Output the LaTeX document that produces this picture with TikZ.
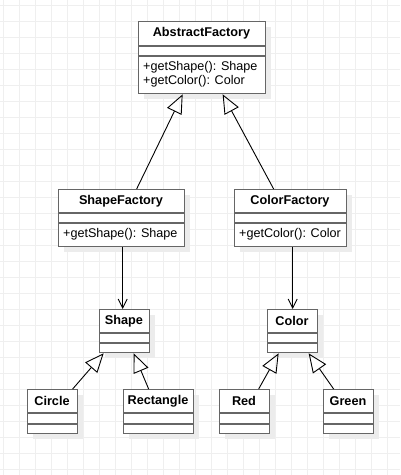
\documentclass[tikz,border=0pt]{standalone}
\usepackage{fontspec}
\setmainfont{Liberation Sans}
\usetikzlibrary{arrows.meta}
\definecolor{gridc}{HTML}{EFEFEF}
\definecolor{shadowc}{HTML}{ECECEC}
\definecolor{boxc}{HTML}{666666}
\tikzset{
  classbox/.style={draw=boxc, line width=1.3pt, fill=white, rectangle, inner sep=0pt, anchor=north west},
  sepline/.style={draw=boxc, line width=1.3pt},
  shadowbox/.style={fill=shadowc},
  titletext/.style={font=\fontsize{12.7}{14}\selectfont\bfseries, inner sep=0pt},
  methtext/.style={font=\fontsize{12.6}{14}\selectfont, inner sep=0pt, anchor=west},
  gen/.style={line width=0.9pt, -{Triangle[open, length=19pt, width=16pt, line width=0.9pt]}},
  dep/.style={line width=0.9pt, -{Straight Barb[length=9pt, width=9pt, line width=0.9pt]}},
  gridline/.style={draw=gridc, line width=0.9pt}
}
\newcommand{\umlclass}[8]{% name, x1, y1, x2, y2, sep1, sep2, title
  \fill[shadowbox] (#2+6,#3+6) rectangle (#4+6,#5+6);
  \node[classbox, minimum width=#4pt-#2pt, minimum height=#5pt-#3pt] (#1) at (#2,#3) {};
  \draw[sepline] (#2,#6) -- (#4,#6);
  \draw[sepline] (#2,#7) -- (#4,#7);
  \node[titletext] (#1-title) at ({(#2+#4)/2},{(#3+#6)/2}) {#8};
}
\begin{document}
\begin{tikzpicture}[x=1pt, y=-1pt]
\useasboundingbox (0,0) rectangle (400,475);
\fill[white] (0,0) rectangle (400,475);
\foreach \x in {3,19,...,399} \draw[gridline] (\x,0) -- (\x,475);
\foreach \y in {5,21,...,469} \draw[gridline] (0,\y) -- (400,\y);

\umlclass{af}{138}{21}{265}{93}{46}{56}{AbstractFactory}
\node[methtext] (af-m1) at (143,67) {+getShape(): Shape};
\node[methtext] (af-m2) at (143,81) {+getColor(): Color};

\umlclass{sf}{58}{189}{184}{246}{213}{223}{ShapeFactory}
\node[methtext] (sf-m1) at (63,234) {+getShape(): Shape};

\umlclass{cf}{234}{189}{346}{246}{213}{223}{ColorFactory}
\node[methtext] (cf-m1) at (239,234) {+getColor(): Color};

\umlclass{sh}{99}{309}{149}{352}{333}{343}{Shape}
\umlclass{co}{267}{309}{317}{352}{333}{343}{Color}
\umlclass{ci}{27}{389}{77}{433}{413}{424}{Circle}
\umlclass{re}{123}{389}{193}{433}{413}{424}{Rectangle}
\umlclass{rd}{219}{389}{269}{433}{413}{424}{Red}
\umlclass{gr}{323}{389}{373}{433}{413}{424}{Green}

\draw[gen] ([xshift=15pt]sf.north) -- ([xshift=-19.5pt]af.south);
\draw[gen] ([xshift=-17pt]cf.north) -- ([xshift=20.5pt]af.south);
\draw[dep] ([xshift=1pt]sf.south) -- ([xshift=1pt]sf.south |- sh.north);
\draw[dep] (co.north |- cf.south) -- (co.north);
\draw[gen] ([xshift=20pt]ci.north) -- ([xshift=-21pt]sh.south);
\draw[gen] ([xshift=-10pt]re.north) -- ([xshift=9pt]sh.south);
\draw[gen] ([xshift=14pt]rd.north) -- ([xshift=-14pt]co.south);
\draw[gen] ([xshift=-15pt]gr.north) -- ([xshift=16pt]co.south);
\end{tikzpicture}
\end{document}
